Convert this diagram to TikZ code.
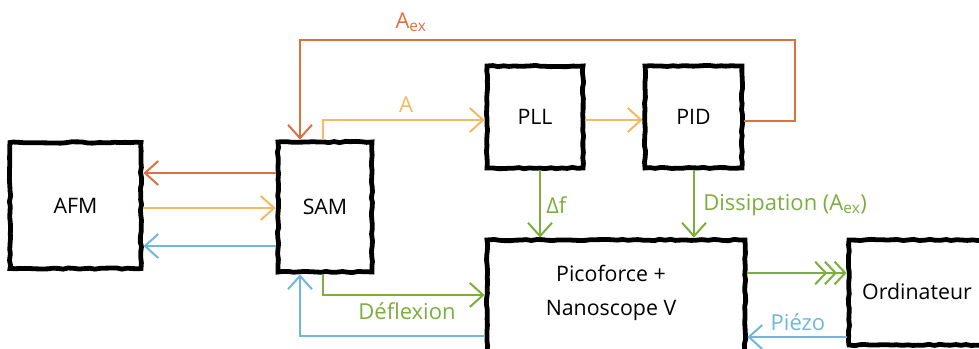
\documentclass[tikz,border=0pt]{standalone}
\usepackage{fontspec}
\setmainfont{Open Sans}
\usetikzlibrary{arrows.meta,decorations.pathmorphing}
\definecolor{corange}{RGB}{222,112,62}
\definecolor{cyellow}{RGB}{242,186,98}
\definecolor{cblue}{RGB}{112,182,222}
\definecolor{cgreen}{RGB}{124,174,62}
\tikzset{
  box/.style={draw=black, line width=3.6pt, fill=white, inner sep=0pt, font=\fontsize{16}{19}\selectfont,
    decorate, decoration={random steps, segment length=4pt, amplitude=0.5pt}},
  conn/.style={line width=1.5pt, -{Straight Barb[length=10pt,width=18pt,line width=1.5pt]}},
  triple/.style={line width=1.5pt, -{Straight Barb[length=8pt,width=17pt,line width=1.5pt,sep=-2.5pt] Straight Barb[length=8pt,width=17pt,line width=1.5pt,sep=-2.5pt] Straight Barb[length=8pt,width=17pt,line width=1.5pt]}},
  lab/.style={font=\fontsize{16.5}{19}\selectfont, inner sep=0pt}
}
\begin{document}
\begin{tikzpicture}[x=0.75pt,y=-0.75pt]
\useasboundingbox (0,0) rectangle (979,349);
% boxes
\node[box, minimum width=98.25pt, minimum height=94.5pt] (AFM) at (75.5,205.5) {AFM};
\node[box, minimum width=70.5pt, minimum height=97.5pt] (SAM) at (325,207) {SAM};
\node[box, minimum width=72pt, minimum height=76.5pt] (PLL) at (535,117) {PLL};
\node[box, minimum width=72.75pt, minimum height=76.5pt] (PID) at (693.5,117) {PID};
\node[box, minimum width=193.5pt, minimum height=90pt] (PICO) at (616,300) {};
\node[font=\fontsize{16}{25}\selectfont, align=center, inner sep=0pt] (PICOT) at (611,293) {Picoforce +\\Nanoscope V};
\node[box, minimum width=108.75pt, minimum height=78.75pt] (ORD) at (921.5,292.5) {};
\node[font=\fontsize{16}{19}\selectfont, inner sep=0pt] (ORDT) at (917,292) {Ordinateur};
% coordinates
\coordinate (c1) at (795,121);
\coordinate (c2) at (795,40);
\coordinate (c3) at (300,40);
\coordinate (c4) at (323,120);
\coordinate (c5) at (323,295);
\coordinate (c6) at (300,336);
% AFM <-> SAM
\draw[conn, corange] (SAM.west |- 0,173) -- (AFM.east |- 0,173);
\draw[conn, cyellow] (AFM.east |- 0,208) -- (SAM.west |- 0,208);
\draw[conn, cblue] (SAM.west |- 0,246) -- (AFM.east |- 0,246);
% Aex loop
\draw[conn, corange] (PID.east |- c1) -- (c1) -- (c2) -- (c3) -- (c3 |- SAM.north);
\node[lab, text=corange] (Aex) at (411,22) {A\textsubscript{ex}};
% A
\draw[conn, cyellow] (c4 |- SAM.north) -- (c4) -- (PLL.west |- c4);
\node[lab, text=cyellow] (Alab) at (406,105) {A};
\draw[conn, cyellow] (PLL.east |- 0,120) -- (PID.west |- 0,120);
% delta f, dissipation
\draw[conn, cgreen] (PLL.south -| 540,0) -- (PICO.north -| 540,0);
\node[lab, text=cgreen, anchor=west] (df) at (546,205) {Δf};
\draw[conn, cgreen] (PID.south -| 694,0) -- (PICO.north -| 694,0);
\node[lab, text=cgreen, anchor=west] (diss) at (703,205) {Dissipation (A\textsubscript{ex})};
% pico -> ord
\draw[triple, cgreen] (PICO.east |- 0,273) -- (ORD.west |- 0,273);
\draw[conn, cblue] (ORD.west |- 0,337) -- (PICO.east |- 0,337);
\node[lab, text=cblue] (piezo) at (798,322) {Piézo};
% deflexion
\draw[conn, cgreen] (c5 |- SAM.south) -- (c5) -- (PICO.west |- c5);
\node[lab, text=cgreen] (defl) at (407,311) {Déflexion};
\draw[conn, cblue] (PICO.west |- c6) -- (c6) -- (c6 |- SAM.south);
\end{tikzpicture}
\end{document}
